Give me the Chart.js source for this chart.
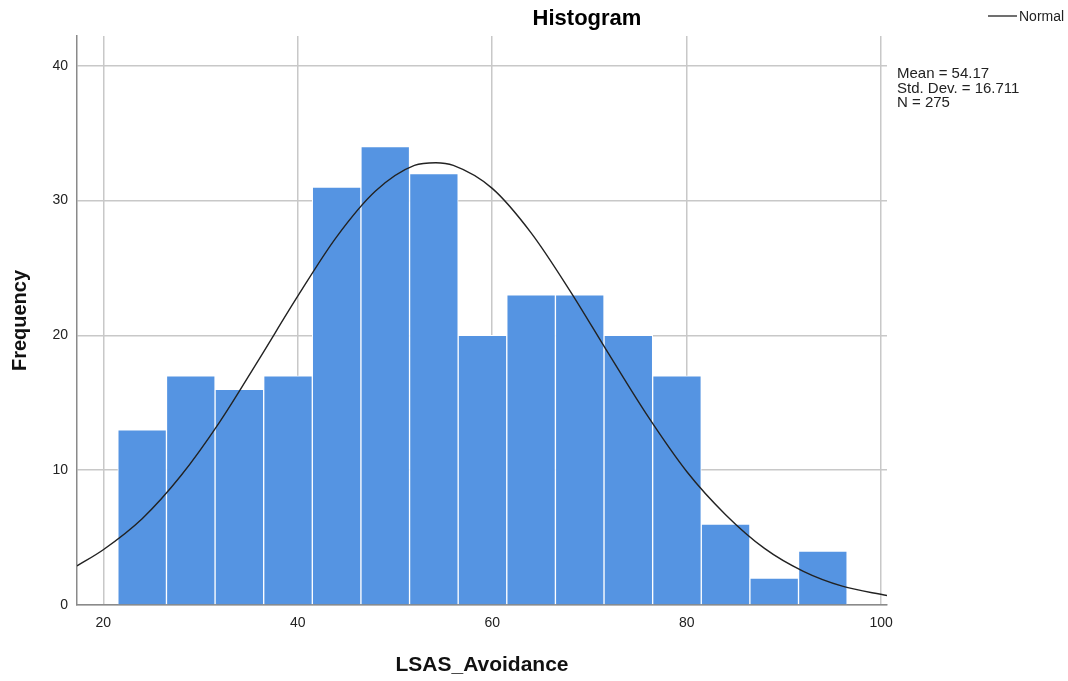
<!DOCTYPE html>
<html>
<head>
<meta charset="utf-8">
<script src="https://cdn.jsdelivr.net/npm/chart.js@4.4.1/dist/chart.umd.min.js"></script>
<style>
    html, body { margin: 0; padding: 0; background: #fff; }
    #wrap { width: 1068px; height: 681px; }
</style>
</head>
<body>
<div id="wrap"><canvas id="hist"></canvas></div>
<script>
// bin centers (width 5) and counts
const binCenters = [24, 29, 34, 39, 44, 49, 54, 59, 64, 69, 74, 79, 84, 89, 94];
const counts = [13, 17, 16, 17, 31, 34, 32, 20, 23, 23, 20, 17, 6, 2, 4];

// normal curve
const curveX = [17.3, 20, 24, 28, 32, 36, 40, 44, 48, 52, 54.2, 56, 60, 64, 68, 72, 76, 80, 84, 88, 92, 96, 100.6];
const curveY = [2.9, 4.1, 6.4, 9.6, 13.6, 18.2, 22.9, 27.3, 30.7, 32.6, 32.8, 32.6, 30.9, 27.6, 23.3, 18.6, 14.0, 9.9, 6.7, 4.2, 2.5, 1.4, 0.7];

const xTicks = [20, 40, 60, 80, 100];
const yTicks = [0, 10, 20, 30, 40];

const statLines = ['Mean = 54.17', 'Std. Dev. = 16.711', 'N = 275'];

const FONT = '"Liberation Sans", Arial, sans-serif';

const extras = {
    id: 'extras',
    afterDraw(chart) {
        const c = chart.ctx;
        c.save();
        c.fillStyle = '#000';
        c.textAlign = 'center';
        c.textBaseline = 'alphabetic';
        c.font = 'bold 22px ' + FONT;
        c.fillText('Histogram', 587, 25);

        // legend
        c.strokeStyle = '#222';
        c.lineWidth = 1.3;
        c.beginPath();
        c.moveTo(988, 16);
        c.lineTo(1017, 16);
        c.stroke();
        c.font = '14px ' + FONT;
        c.textAlign = 'left';
        c.fillStyle = '#222';
        c.fillText('Normal', 1019, 21);

        // stats
        c.font = '15px ' + FONT;
        for (let i = 0; i < statLines.length; i++) {
            c.fillText(statLines[i], 897, 78 + i * 14.5);
        }
        c.restore();
    }
};

const ctx = document.getElementById('hist');
new Chart(ctx, {
    type: 'bar',
    data: {
        datasets: [
            {
                type: 'line',
                data: curveX.map((x, i) => ({ x: x, y: curveY[i] })),
                borderColor: '#222',
                borderWidth: 1.4,
                pointRadius: 0,
                fill: false,
                cubicInterpolationMode: 'monotone',
                order: 0
            },
            {
                type: 'bar',
                data: binCenters.map((x, i) => ({ x: x, y: counts[i] })),
                backgroundColor: 'rgb(85, 148, 226)',
                borderColor: '#ffffff',
                borderWidth: 1,
                barPercentage: 1,
                categoryPercentage: 1,
                order: 1
            }
        ]
    },
    options: {
        responsive: true,
        maintainAspectRatio: false,
        animation: false,
        layout: {
            padding: { top: 36, right: 181, left: 0, bottom: 0 }
        },
        plugins: {
            legend: { display: false },
            tooltip: { enabled: false },
            title: { display: false }
        },
        scales: {
            x: {
                type: 'linear',
                min: 17.3,
                max: 100.6,
                offset: false,
                afterBuildTicks: (scale) => { scale.ticks = xTicks.map(v => ({ value: v })); },
                afterFit: (scale) => { scale.height = 76; },
                ticks: {
                    includeBounds: false,
                    color: '#222',
                    padding: 10,
                    maxRotation: 0,
                    font: { family: FONT, size: 14 }
                },
                grid: { color: '#c8c8c8', lineWidth: 1.5, drawTicks: false, offset: false },
                border: { color: '#8a8a8a', width: 1.5 },
                title: {
                    display: true,
                    text: 'LSAS_Avoidance',
                    color: '#111',
                    font: { family: FONT, size: 21, weight: 'bold' },
                    padding: { top: 0, bottom: 3 }
                }
            },
            y: {
                min: 0,
                max: 42.2,
                afterBuildTicks: (scale) => { scale.ticks = yTicks.map(v => ({ value: v })); },
                afterFit: (scale) => { scale.width = 77; },
                ticks: {
                    includeBounds: false,
                    color: '#222',
                    padding: 9,
                    font: { family: FONT, size: 14 }
                },
                grid: { color: '#c8c8c8', lineWidth: 1.5, drawTicks: false },
                border: { color: '#8a8a8a', width: 1.5 },
                title: {
                    display: true,
                    text: 'Frequency',
                    color: '#111',
                    font: { family: FONT, size: 20, weight: 'bold' },
                    padding: { top: 8, bottom: 0 }
                }
            }
        }
    },
    plugins: [extras]
});
</script>
</body>
</html>
